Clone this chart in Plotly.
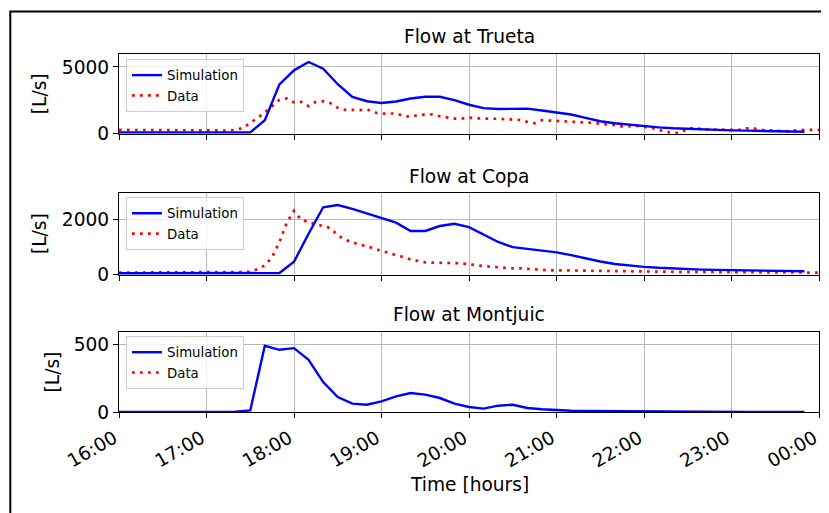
import pandas as pd
import plotly.graph_objects as go

# ---------------- data ----------------
sim_times = pd.date_range("2000-01-01 16:00", periods=48, freq="10min")
data_times = pd.date_range("2000-01-01 16:00", periods=97, freq="5min")

trueta_sim = [120, 120, 120, 120, 120, 120, 120, 120, 120, 120,
              1020, 3700, 4750, 5370, 4870, 3710, 2760, 2440, 2310, 2420,
              2650, 2780, 2780, 2520, 2180, 1930, 1860, 1890, 1890, 1750,
              1590, 1450, 1200, 950, 800, 680, 570, 490, 420, 370,
              330, 300, 270, 245, 225, 205, 185, 165]
trueta_data = [300, 300, 290, 290, 280, 280, 270, 270, 270, 280, 280, 280, 280, 270, 260, 240,
               300, 450, 800, 1200, 1600, 2100, 2550, 2650, 2350, 2400, 2080, 2400, 2450, 2300, 1950, 1800,
               1770, 1780, 1840, 1600, 1520, 1550, 1530, 1350, 1270, 1420, 1440, 1460, 1320, 1250, 1150, 1150,
               1220, 1170, 1130, 1140, 1130, 1100, 1050, 1040, 900, 800, 1030, 1000, 970, 970, 960, 920,
               870, 830, 760, 720, 650, 560, 580, 600, 520, 470, 300, 170, 60, 90, 420, 410,
               400, 340, 320, 300, 280, 300, 410, 420, 300, 260, 230, 210, 200, 280, 300, 300, 300]

copa_sim = [60, 60, 60, 60, 60, 60, 60, 60, 60, 60, 60, 70,
            480, 1500, 2460, 2540, 2400, 2240, 2060, 1900,
            1600, 1600, 1780, 1860, 1740, 1460, 1200, 1010, 940, 880,
            820, 720, 600, 490, 400, 340, 295, 260, 230, 210,
            195, 185, 175, 165, 155, 145, 140, 135]
copa_data = [85, 85, 85, 85, 85, 85, 85, 85, 85, 85, 85, 85, 85, 85, 85, 85, 90, 100,
             110, 210, 350, 650, 1190, 1900, 2330, 2000, 1930, 1820, 1790, 1700, 1450, 1280, 1200, 1100, 1050, 950,
             880, 790, 720, 650, 560, 510, 460, 450, 450, 440, 430, 420, 380, 340, 320, 300, 280, 250,
             240, 240, 220, 200, 180, 170, 170, 165, 165, 160, 160, 155, 150, 145, 140, 135, 130, 125,
             120, 120, 120, 118, 116, 114, 112, 110, 110, 108, 106, 104, 102, 100, 100, 98, 96, 94, 92, 90,
             88, 86, 85, 85, 85]

montjuic_sim = [0, 0, 0, 0, 0, 0, 0, 0, 3, 12,
                493, 463, 475, 389, 223, 111, 62, 54, 79, 116,
                141, 129, 104, 62, 37, 25, 47, 54, 30, 20,
                12, 9, 7, 6, 5, 4, 3, 3, 2, 2,
                2, 1, 1, 1, 1, 1, 1, 1]
montjuic_data = [None] * 97

titles = ["Flow at Trueta", "Flow at Copa", "Flow at Montjuic"]
y_ranges = [[0, 5970], [0, 2995], [0, 592]]
y_dticks = [5000, 2000, 500]
x_range = ["2000-01-01 16:00", "2000-01-02 00:00"]

assert len(trueta_sim) == len(copa_sim) == len(montjuic_sim) == 48
assert len(trueta_data) == len(copa_data) == len(montjuic_data) == 97

# ---------------- figure ----------------
FONT = "DejaVu Sans"
FS = 18.6
fig = go.Figure()

sims = [trueta_sim, copa_sim, montjuic_sim]
datas = [trueta_data, copa_data, montjuic_data]
legends = ["legend", "legend2", "legend3"]

for i in range(3):
    ax = "" if i == 0 else str(i + 1)
    fig.add_trace(go.Scatter(
        x=data_times, y=datas[i], mode="lines", name="Data",
        line=dict(color="#ff0000", width=2.7, dash="2.7px,5.3px"),
        xaxis="x" + ax, yaxis="y" + ax, legend=legends[i], legendrank=2,
        connectgaps=False))
    fig.add_trace(go.Scatter(
        x=sim_times, y=sims[i], mode="lines", name="Simulation",
        line=dict(color="#0000ff", width=2.4),
        xaxis="x" + ax, yaxis="y" + ax, legend=legends[i], legendrank=1))

y_domains = [[0.7767, 1.0], [0.3828, 0.6129], [0.0, 0.2222]]

axis_common = dict(
    showline=True, linecolor="black", linewidth=1.3, mirror=True,
    ticks="outside", ticklen=5, tickwidth=1.3, tickcolor="black",
    showgrid=True, gridcolor="#b8b8b8", gridwidth=1,
    zeroline=False,
    tickfont=dict(family=FONT, size=FS, color="black"),
)

# the page body has an 8px margin, so the figure is shrunk by that amount
layout = dict(
    width=821, height=505,
    margin=dict(l=111, r=8, t=46, b=101),
    paper_bgcolor="white", plot_bgcolor="white",
    font=dict(family=FONT, size=FS, color="black"),
    showlegend=True,
)

for i in range(3):
    ax = "" if i == 0 else str(i + 1)
    layout["xaxis" + ax] = dict(
        axis_common, type="date", range=x_range, dtick=3600000,
        tick0="2000-01-01 16:00", tickformat="%H:%M",
        showticklabels=(i == 2), tickangle=-30,
        ticklabelshift=-5, ticklabelstandoff=2,
        anchor="y" + ax, domain=[0, 1],
        **({} if i == 0 else {"matches": "x"}))
    layout["yaxis" + ax] = dict(
        axis_common, range=y_ranges[i], dtick=y_dticks[i], tick0=0,
        anchor="x" + ax, domain=y_domains[i])

legend_tops = [0.9861, 0.6001, 0.2121]
for i in range(3):
    layout[legends[i]] = dict(
        x=0.01, y=legend_tops[i], xanchor="left", yanchor="top",
        bgcolor="rgba(255,255,255,0.8)", bordercolor="#cccccc", borderwidth=1,
        font=dict(family=FONT, size=13.3, color="black"),
        tracegroupgap=0, itemwidth=30)

fig.update_layout(**layout)

annotations = []
title_ys = [1.0475, 0.6567, 0.2716]
for i in range(3):
    annotations.append(dict(
        text=titles[i], x=0.5, y=title_ys[i], xref="paper", yref="paper",
        xanchor="center", yanchor="middle", showarrow=False,
        font=dict(family=FONT, size=FS, color="black")))

ylabel_xs = [-0.1125, -0.1125, -0.0954]
for i in range(3):
    annotations.append(dict(
        text="[L/s]", x=ylabel_xs[i], y=sum(y_domains[i]) / 2,
        xref="paper", yref="paper", xanchor="center", yanchor="middle",
        textangle=-90, showarrow=False,
        font=dict(family=FONT, size=FS, color="black")))

annotations.append(dict(
    text="Time [hours]", x=0.5, y=-0.2029, xref="paper", yref="paper",
    xanchor="center", yanchor="middle", showarrow=False,
    font=dict(family=FONT, size=FS, color="black")))

fig.update_layout(annotations=annotations)

# outer figure frame (partially cropped in the reference)
fig.add_shape(type="rect", xref="paper", yref="paper",
              x0=-0.1553, x1=1.2, y0=-0.5, y1=1.119,
              line=dict(color="black", width=2), fillcolor="rgba(0,0,0,0)",
              layer="above")

fig.write_html("out.html")
